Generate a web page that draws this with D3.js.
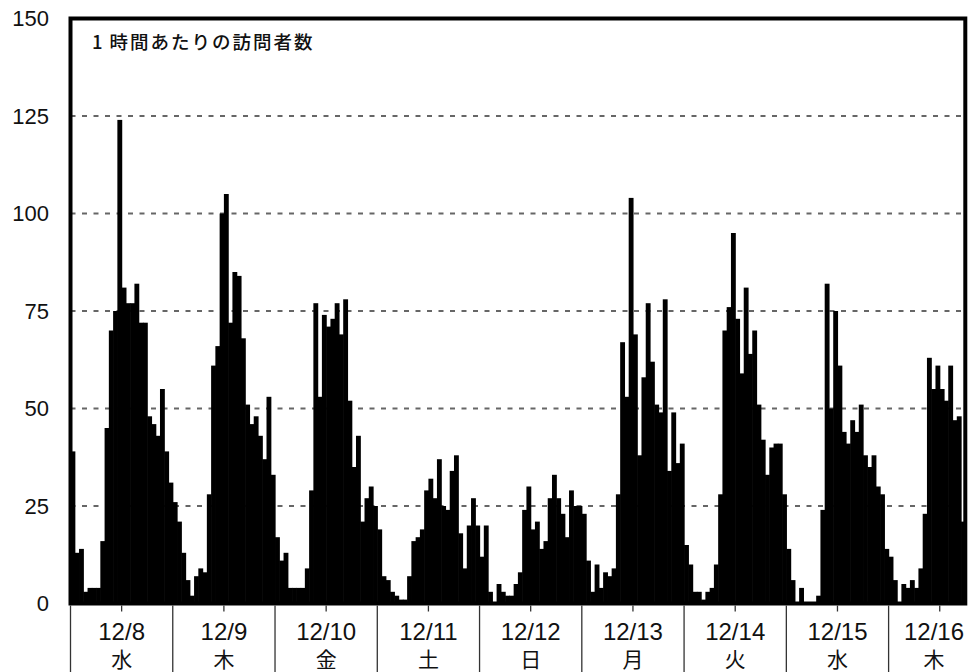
<!DOCTYPE html>
<html><head><meta charset="utf-8">
<script src="https://cdn.jsdelivr.net/npm/d3@7/dist/d3.min.js"></script>
<style>
body{margin:0;background:#fff;}
svg{display:block;}
</style>
</head><body>
<svg id="chart" width="969" height="672"></svg>
<script>
// ---- data ----
const dayLabels = ["12/8","12/9","12/10","12/11","12/12","12/13","12/14","12/15","12/16"];
const weekdayLabels = ["水","木","金","土","日","月","火","水","木"];
const yTickValues = [0,25,50,75,100,125,150];
const gridValues = [25,50,75,100,125];
const titleNum = "1";
const titleRest = "時間あたりの訪問者数";

const visitors_1208 = [39,13,14,3,4,4,4,16,45,70,75,124,81,77,77,82,72,72,48,46,43,55,39,31];
const visitors_1209 = [26,21,13,6,2,7,9,8,28,61,66,100,105,72,85,84,68,51,46,48,43,37,53,33];
const visitors_1210 = [17,11,13,4,4,4,4,9,29,77,53,74,71,73,77,69,78,52,35,43,21,27,30,25];
const visitors_1211 = [19,7,6,3,2,1,1,7,16,17,19,29,32,27,37,25,24,34,38,18,9,20,27,20];
const visitors_1212 = [12,20,3,0,5,3,2,2,5,8,24,30,19,21,14,16,27,33,27,23,17,29,25,25];
const visitors_1213 = [23,11,3,10,4,8,7,9,28,67,53,104,69,38,58,77,62,51,49,78,34,49,36,41];
const visitors_1214 = [15,10,3,3,1,3,4,10,28,70,76,95,73,59,81,64,70,51,42,33,40,41,41,28];
const visitors_1215 = [14,6,0,4,0,0,0,2,24,82,50,75,61,44,41,47,44,51,38,35,38,30,28,14];
const visitors_1216 = [12,6,0,5,4,6,4,9,23,63,55,61,55,52,61,47,48,21];

const dailySeries = [visitors_1208,visitors_1209,visitors_1210,visitors_1211,visitors_1212,
                     visitors_1213,visitors_1214,visitors_1215,visitors_1216];

// ---- build ----
const values = dailySeries.flat();
const dayStart = [];
{ let s = 0; dailySeries.forEach(d => { dayStart.push(s); s += d.length; }); }

const W = 969, H = 672;
const L = 70.5, R = 965.3, T = 18.5, B = 603.5;
const LATIN = "'Liberation Sans', Arial, 'Noto Sans CJK JP', sans-serif";
const CJK = "'Noto Sans CJK JP', sans-serif";

const svg = d3.select("#chart");
const x = d3.scaleBand().domain(d3.range(values.length)).range([L, R]).padding(0);
const y = d3.scaleLinear().domain([0, 150]).range([B, T]);
const bw = x.bandwidth();

// gridlines
svg.append("g").selectAll("line").data(gridValues).join("line")
  .attr("x1", L).attr("x2", R)
  .attr("y1", d => y(d)).attr("y2", d => y(d))
  .attr("stroke", "#666").attr("stroke-width", 2)
  .attr("stroke-dasharray", "5,6.5");

// bars
svg.append("g").selectAll("rect").data(values).join("rect")
  .attr("x", (d, i) => x(i))
  .attr("width", bw + 0.6)
  .attr("y", d => y(d))
  .attr("height", d => B - y(d))
  .attr("fill", "#000");

// y axis labels
const yAxis = d3.axisLeft(y).tickValues(yTickValues).tickSize(0).tickPadding(21.5);
const ya = svg.append("g").attr("transform", `translate(${L},0)`).call(yAxis);
ya.select(".domain").remove();
ya.selectAll("text").attr("font-family", LATIN).attr("font-size", 22).attr("fill", "#111");

// frame
svg.append("rect").attr("x", L).attr("y", T).attr("width", R - L).attr("height", B - T)
  .attr("fill", "none").attr("stroke", "#000").attr("stroke-width", 4);

// category axis: separators and noon ticks
const g = svg.append("g");
g.selectAll("line.sep").data(dayStart).join("line").attr("class", "sep")
  .attr("x1", d => x(d)).attr("x2", d => x(d))
  .attr("y1", B + 2).attr("y2", H)
  .attr("stroke", "#333").attr("stroke-width", 1.3);
g.selectAll("line.noon").data(dayStart.filter((s, i) => dailySeries[i].length > 12)).join("line").attr("class", "noon")
  .attr("x1", d => x(d + 12)).attr("x2", d => x(d + 12))
  .attr("y1", B + 2).attr("y2", B + 8)
  .attr("stroke", "#333").attr("stroke-width", 1.3);

dayLabels.forEach((lab, i) => {
  let cx = x(dayStart[i]) + 12 * bw;
  const t = g.append("text").text(lab)
    .attr("font-family", LATIN).attr("font-size", 24).attr("fill", "#111")
    .attr("text-anchor", "middle").attr("y", 640);
  const wT = t.node().getComputedTextLength();
  cx = Math.min(cx, W - wT / 2 - 5);
  t.attr("x", cx);
  g.append("text").text(weekdayLabels[i])
    .attr("font-family", CJK).attr("font-size", 21).attr("fill", "#111")
    .attr("text-anchor", "middle").attr("x", cx).attr("y", 666.5);
});

// title
const tt = svg.append("text").attr("x", 92).attr("y", 49)
  .attr("font-family", CJK).attr("font-size", 18.5).attr("font-weight", 500).attr("fill", "#111")
  .attr("letter-spacing", 2);
tt.append("tspan").text(titleNum);
tt.append("tspan").attr("dx", 5).text(titleRest);
</script>
</body></html>
